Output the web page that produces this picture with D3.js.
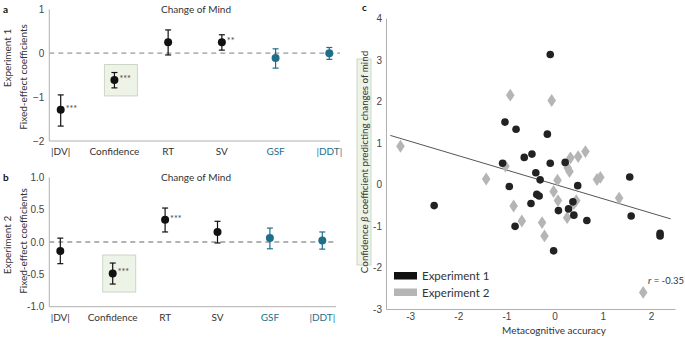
<!DOCTYPE html>
<html lang="en">
<head>
  <meta charset="utf-8">
  <title>Change of Mind</title>
  <script src="https://cdn.jsdelivr.net/npm/d3@7"></script>
  <style>
    body { margin: 0; background: #fff; }
    svg { font-family: Lato, "Open Sans", sans-serif; }
    .tick text { fill: #444; }
  </style>
</head>
<body>
  <script>
    // categories shared by panels a and b
    const predictors = ["|DV|", "Confidence", "RT", "SV", "GSF", "|DDT|"];
    const tealPredictors = ["GSF", "|DDT|"];

    // panel a (Experiment 1): coefficient, lower, upper, stars
    const exp1Coef = [-1.29, -0.61, 0.25, 0.25, -0.11, 0.0];
    const exp1Low = [-1.66, -0.79, -0.04, 0.07, -0.34, -0.14];
    const exp1High = [-0.95, -0.44, 0.53, 0.42, 0.1, 0.13];
    const exp1Stars = ["***", "***", "", "**", "", ""];
    const exp1Ticks = [-2, -1, 0, 1];

    // panel b (Experiment 2)
    const exp2Coef = [-0.14, -0.485, 0.345, 0.155, 0.06, 0.025];
    const exp2Low = [-0.335, -0.65, 0.155, -0.015, -0.105, -0.11];
    const exp2High = [0.06, -0.325, 0.525, 0.32, 0.215, 0.155];
    const exp2Stars = ["", "***", "***", "", "", ""];
    const exp2Ticks = [-1.0, -0.5, 0.0, 0.5, 1.0];

    // panel c: metacognitive accuracy vs confidence beta
    const scatter1X = [-0.09, -1.03, -0.8, -0.15, -0.63, -0.47, -1.08, -0.09, 0.22, -0.39,
      -0.3, -0.94, 0.48, 1.56, -2.5, -0.37, -0.32, -0.49, 0.08, 0.29, 0.4, 0.38, 0.67,
      1.59, 2.19, 2.19, -0.82, -0.02];
    const scatter1Y = [3.13, 1.5, 1.33, 1.21, 0.65, 0.73, 0.51, 0.51, 0.53, 0.28,
      0.11, -0.05, -0.03, 0.18, -0.51, -0.24, -0.28, -0.46, -0.63, -0.59, -0.74, -0.42, -0.87,
      -0.76, -1.18, -1.24, -1.01, -1.6];
    const scatter2X = [-0.92, -0.06, -3.2, 0.64, 0.49, 0.33, -1.02, 0.27, 0.31, 0.06,
      0.88, 0.95, -0.02, 0.07, 1.34, 0.45, 0.4, 0.26, -1.42, -0.85, -0.68, -0.26, -0.21, 1.84];
    const scatter2Y = [2.15, 2.02, 0.92, 0.79, 0.67, 0.64, 0.44, 0.4, 0.31, 0.1,
      0.12, 0.17, -0.17, -0.39, -0.33, -0.39, -0.46, -0.8, 0.13, -0.52, -0.88, -0.92, -1.24, -2.6];
    const fitX = [-3.41, 2.41];
    const fitY = [1.18, -0.83];
    const scatterXTicks = [-3, -2, -1, 0, 1, 2];
    const scatterYTicks = [-3, -2, -1, 0, 1, 2, 3, 4];

    const teal = "#1f6f8b";
    const axisGrey = "#b0b0b0";
    const boxFill = "#eef3e7";
    const boxStroke = "#cdd6c5";
    const fs = 10;

    const svg = d3.select("body").append("svg")
      .attr("width", 685).attr("height", 337);

    function coefPanel(o) {
      const g = svg.append("g");
      const x = d3.scalePoint().domain(predictors).range(o.xRange);
      const y = d3.scaleLinear().domain(o.yDomain).range(o.yRange);

      // highlight box around Confidence
      const cx = x("Confidence");
      g.append("rect")
        .attr("x", cx - 10).attr("y", y(o.high[1]) - 8)
        .attr("width", 33).attr("height", y(o.low[1]) - y(o.high[1]) + 16)
        .attr("fill", boxFill).attr("stroke", boxStroke).attr("stroke-width", 1);

      // zero line
      g.append("line")
        .attr("x1", o.axisLeft).attr("x2", o.axisRight)
        .attr("y1", y(0)).attr("y2", y(0))
        .attr("stroke", "#999").attr("stroke-width", 1.3)
        .attr("stroke-dasharray", "5,4");

      // axes
      const yAxis = d3.axisLeft(y).tickValues(o.ticks).tickSize(0).tickPadding(5)
        .tickFormat(o.fmt);
      const yAxisG = g.append("g").attr("transform", `translate(${o.axisLeft},0)`).call(yAxis);
      yAxisG.select(".domain").attr("stroke", axisGrey)
        .attr("d", `M0,${o.yRange[1]}V${o.yRange[0]}`);
      yAxisG.selectAll("text").attr("font-size", fs);

      g.append("line")
        .attr("x1", o.axisLeft).attr("x2", o.axisRight)
        .attr("y1", o.yRange[0]).attr("y2", o.yRange[0])
        .attr("stroke", axisGrey);

      g.selectAll(".xlab").data(predictors).join("text")
        .attr("class", "xlab")
        .attr("x", d => x(d)).attr("y", o.yRange[0] + 14)
        .attr("text-anchor", "middle").attr("font-size", fs)
        .attr("fill", d => tealPredictors.includes(d) ? teal : "#333")
        .text(d => d);

      const rows = predictors.map((p, i) => ({
        p, c: o.coef[i], lo: o.low[i], hi: o.high[i], s: o.stars[i],
        col: tealPredictors.includes(p) ? teal : "#111"
      }));
      const pts = g.selectAll(".pt").data(rows).join("g").attr("class", "pt");
      pts.append("line")
        .attr("x1", d => x(d.p)).attr("x2", d => x(d.p))
        .attr("y1", d => y(d.lo)).attr("y2", d => y(d.hi))
        .attr("stroke", d => d.col).attr("stroke-width", 1.2);
      pts.append("line")
        .attr("x1", d => x(d.p) - 3).attr("x2", d => x(d.p) + 3)
        .attr("y1", d => y(d.lo)).attr("y2", d => y(d.lo))
        .attr("stroke", d => d.col).attr("stroke-width", 1.2);
      pts.append("line")
        .attr("x1", d => x(d.p) - 3).attr("x2", d => x(d.p) + 3)
        .attr("y1", d => y(d.hi)).attr("y2", d => y(d.hi))
        .attr("stroke", d => d.col).attr("stroke-width", 1.2);
      pts.append("circle")
        .attr("cx", d => x(d.p)).attr("cy", d => y(d.c)).attr("r", 4)
        .attr("fill", d => d.col);
      pts.append("text")
        .attr("x", d => x(d.p) + 5).attr("y", d => y(d.c) + 2)
        .attr("font-size", 9).attr("fill", "#444")
        .text(d => d.s);

      // titles and labels
      g.append("text").attr("x", 196).attr("y", o.yRange[1] + 3.5)
        .attr("text-anchor", "middle").attr("font-size", fs).attr("fill", "#333")
        .text("Change of Mind");
      g.append("text").attr("x", 3).attr("y", o.yRange[1] + 4)
        .attr("font-size", 10).attr("font-weight", "bold").attr("fill", "#111")
        .text(o.letter);
      g.append("text")
        .attr("transform", `translate(11,${o.expY}) rotate(-90)`)
        .attr("text-anchor", "middle").attr("font-size", fs).attr("fill", "#333")
        .text(o.expLabel);
      g.append("text")
        .attr("transform", `translate(27,${o.fixY}) rotate(-90)`)
        .attr("text-anchor", "middle").attr("font-size", fs).attr("fill", "#333")
        .text("Fixed-effect coefficients");
    }

    coefPanel({
      letter: "a", expLabel: "Experiment 1", expY: 58, fixY: 77,
      coef: exp1Coef, low: exp1Low, high: exp1High, stars: exp1Stars,
      ticks: exp1Ticks, fmt: d3.format("d"),
      xRange: [60.7, 329.3], yDomain: [-2, 1], yRange: [141, 9.3],
      axisLeft: 49.3, axisRight: 340
    });
    coefPanel({
      letter: "b", expLabel: "Experiment 2", expY: 245, fixY: 241,
      coef: exp2Coef, low: exp2Low, high: exp2High, stars: exp2Stars,
      ticks: exp2Ticks, fmt: d => d3.format(".1f")(d).replace("−", "-"),
      xRange: [60.3, 322.3], yDomain: [-1, 1], yRange: [306.7, 177.3],
      axisLeft: 49.3, axisRight: 336
    });

    // panel c scatter
    const sx = d3.scaleLinear().domain([-3.5, 2.5]).range([386, 675]);
    const sy = d3.scaleLinear().domain([-3, 4]).range([309, 18.3]);
    const c = svg.append("g");
    const hyphen = d => String(d).replace("−", "-");

    // y label box
    c.append("rect").attr("x", 357).attr("y", 59).attr("width", 14).attr("height", 206)
      .attr("fill", boxFill).attr("stroke", boxStroke);
    c.append("text")
      .attr("transform", `translate(367.5,162) rotate(-90)`)
      .attr("text-anchor", "middle").attr("font-size", 9.8).attr("fill", "#333")
      .html('Confidence <tspan font-style="italic">β</tspan> coefficient predicting changes of mind');

    const xAx = c.append("g").attr("transform", "translate(0,309)")
      .call(d3.axisBottom(sx).tickValues(scatterXTicks).tickSize(0).tickPadding(4)
        .tickFormat(hyphen));
    xAx.select(".domain").attr("stroke", axisGrey);
    xAx.selectAll("text").attr("font-size", fs);
    const yAx = c.append("g").attr("transform", "translate(386,0)")
      .call(d3.axisLeft(sy).tickValues(scatterYTicks).tickSize(0).tickPadding(4)
        .tickFormat(hyphen));
    yAx.select(".domain").attr("stroke", axisGrey);
    yAx.selectAll("text").attr("font-size", fs);

    c.append("text").attr("x", 554).attr("y", 334).attr("text-anchor", "middle")
      .attr("font-size", fs).attr("fill", "#333").text("Metacognitive accuracy");
    c.append("text").attr("x", 362).attr("y", 11).attr("font-size", 10)
      .attr("font-weight", "bold").attr("fill", "#111").text("c");

    // fit line
    c.append("line")
      .attr("x1", sx(fitX[0])).attr("y1", sy(fitY[0]))
      .attr("x2", sx(fitX[1])).attr("y2", sy(fitY[1]))
      .attr("stroke", "#555").attr("stroke-width", 1);

    const diam = d3.symbol().type(d3.symbolDiamond).size(48);
    c.selectAll(".d2").data(scatter2X.map((v, i) => [v, scatter2Y[i]])).join("path")
      .attr("d", diam)
      .attr("transform", d => `translate(${sx(d[0])},${sy(d[1])}) scale(1.15,1)`)
      .attr("fill", "#b5b5b5");
    c.selectAll(".d1").data(scatter1X.map((v, i) => [v, scatter1Y[i]])).join("circle")
      .attr("cx", d => sx(d[0])).attr("cy", d => sy(d[1])).attr("r", 3.8)
      .attr("fill", "#222");

    // legend
    const legend = [["Experiment 1", "#111"], ["Experiment 2", "#b5b5b5"]];
    const lg = c.selectAll(".lg").data(legend).join("g")
      .attr("transform", (d, i) => `translate(394,${272 + i * 16.5})`);
    lg.append("rect").attr("width", 23).attr("height", 7.5).attr("fill", d => d[1]);
    lg.append("text").attr("x", 28).attr("y", 8).attr("font-size", 11.5)
      .attr("fill", "#333").text(d => d[0]);

    c.append("text").attr("x", 648).attr("y", 284).attr("font-size", 9.5).attr("fill", "#333")
      .html('<tspan font-style="italic">r</tspan> = -0.35');
  </script>
</body>
</html>
